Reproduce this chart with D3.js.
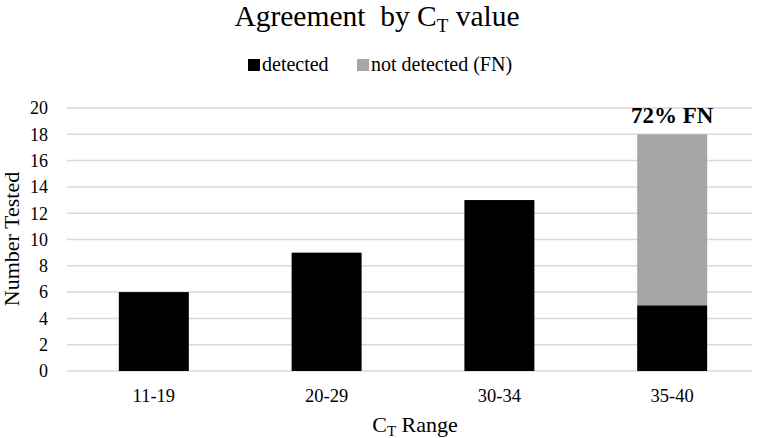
<!DOCTYPE html>
<html>
<head>
<meta charset="utf-8">
<script src="https://cdn.jsdelivr.net/npm/d3@7"></script>
<style>
  body { margin: 0; background: #fff; }
  svg { font-family: "Liberation Serif", "Times New Roman", serif; }
  .pre { white-space: pre; }
</style>
</head>
<body>
<svg id="chart" width="762" height="438"></svg>
<script>
const categories = ["11-19", "20-29", "30-34", "35-40"];
const detected = [6, 9, 13, 5];
const notDetected = [0, 0, 0, 13];
const yTicks = [0, 2, 4, 6, 8, 10, 12, 14, 16, 18, 20];
const seriesNames = ["detected", "not detected (FN)"];
const colors = ["#000000", "#a6a6a6"];
const annotation = "72% FN";

const width = 762, height = 438;
const margin = { top: 108, right: 3, bottom: 67, left: 67 };

const svg = d3.select("#chart");

const x = d3.scaleBand()
    .domain(categories)
    .range([margin.left, width - margin.right])
    .paddingInner(0.595)
    .paddingOuter(0.3);

const y = d3.scaleLinear()
    .domain([0, 20])
    .range([height - margin.bottom, margin.top]);

// gridlines
svg.append("g")
    .selectAll("line")
    .data(yTicks)
    .join("line")
    .attr("x1", margin.left)
    .attr("x2", 752)
    .attr("y1", d => y(d))
    .attr("y2", d => y(d))
    .attr("stroke", "#d9d9d9")
    .attr("stroke-width", 1.5);

// y tick labels
svg.append("g")
    .attr("font-size", 18)
    .attr("text-anchor", "end")
    .selectAll("text")
    .data(yTicks)
    .join("text")
    .attr("x", 48)
    .attr("y", d => y(d))
    .attr("dy", "0.35em")
    .text(d => d);

// stacked bars
const rows = categories.map((c, i) => ({ cat: c, detected: detected[i], notDetected: notDetected[i] }));
const stack = d3.stack().keys(["detected", "notDetected"])(rows);

svg.append("g")
    .selectAll("g")
    .data(stack)
    .join("g")
    .attr("fill", (d, i) => colors[i])
    .selectAll("rect")
    .data(d => d.filter(s => s[1] > s[0]))
    .join("rect")
    .attr("x", d => x(d.data.cat))
    .attr("width", x.bandwidth())
    .attr("y", d => y(d[1]))
    .attr("height", d => y(d[0]) - y(d[1]));

// annotation
const lastIdx = categories.length - 1;
svg.append("text")
    .attr("x", x(categories[lastIdx]) + x.bandwidth() / 2)
    .attr("y", y(detected[lastIdx] + notDetected[lastIdx]) - 11)
    .attr("text-anchor", "middle")
    .attr("font-weight", "bold")
    .attr("font-size", 23)
    .text(annotation);

// x tick labels
svg.append("g")
    .attr("font-size", 18.5)
    .attr("text-anchor", "middle")
    .selectAll("text")
    .data(categories)
    .join("text")
    .attr("x", d => x(d) + x.bandwidth() / 2)
    .attr("y", 402)
    .text(d => d);

// x axis title
const xt = svg.append("text")
    .attr("x", 415)
    .attr("y", 432)
    .attr("text-anchor", "middle")
    .attr("font-size", 22);
xt.append("tspan").text("C");
xt.append("tspan").attr("font-size", 15).attr("dy", 4).text("T");
xt.append("tspan").attr("dy", -4).text(" Range");

// y axis title
svg.append("text")
    .attr("transform", "translate(19,239) rotate(-90)")
    .attr("text-anchor", "middle")
    .attr("font-size", 22)
    .text("Number Tested");

// title
const title = svg.append("text")
    .attr("class", "pre")
    .attr("x", 377)
    .attr("y", 26)
    .attr("text-anchor", "middle")
    .attr("font-size", 29.5);
title.append("tspan").text("Agreement  by C");
title.append("tspan").attr("font-size", 19).attr("dy", 6).text("T");
title.append("tspan").attr("dy", -6).text(" value");

// legend
const legend = svg.append("g").attr("font-size", 20);
const legendX = [248, 357];
seriesNames.forEach((name, i) => {
    legend.append("rect")
        .attr("x", legendX[i])
        .attr("y", 59)
        .attr("width", 12)
        .attr("height", 12)
        .attr("fill", colors[i]);
    legend.append("text")
        .attr("x", legendX[i] + 14)
        .attr("y", 71)
        .text(name);
});
</script>
</body>
</html>
